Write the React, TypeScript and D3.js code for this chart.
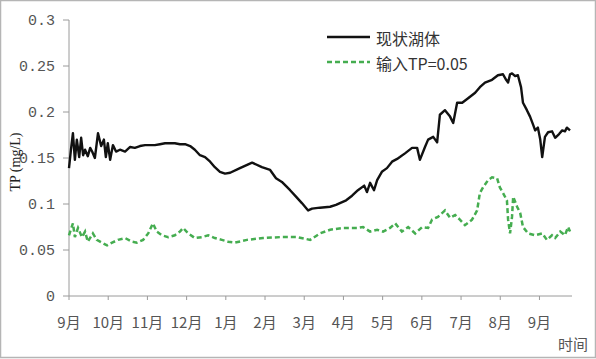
import React from 'react';
import * as d3 from 'd3';

// month labels, Sep -> Sep of next year
const monthLabels = ['9月', '10月', '11月', '12月', '1月', '2月', '3月', '4月', '5月', '6月', '7月', '8月', '9月'];
const yTicks = [0, 0.05, 0.1, 0.15, 0.2, 0.25, 0.3];

// 现状湖体: [month position, TP mg/L]
const lakeNow: [number, number][] = [
  [0.0, 0.139], [0.05, 0.159], [0.1, 0.177], [0.15, 0.148], [0.2, 0.17], [0.26, 0.151], [0.31, 0.172],
  [0.36, 0.153], [0.41, 0.159], [0.48, 0.152], [0.54, 0.161], [0.59, 0.157], [0.66, 0.15], [0.74, 0.177],
  [0.82, 0.163], [0.89, 0.17], [0.94, 0.151], [0.99, 0.166], [1.05, 0.148], [1.12, 0.164], [1.2, 0.157],
  [1.3, 0.159], [1.43, 0.157], [1.56, 0.162], [1.68, 0.161], [1.81, 0.163], [1.94, 0.164], [2.07, 0.164],
  [2.19, 0.164], [2.32, 0.165], [2.45, 0.166], [2.58, 0.166], [2.7, 0.166], [2.83, 0.165], [2.96, 0.165],
  [3.09, 0.163], [3.21, 0.159], [3.34, 0.153], [3.47, 0.151], [3.6, 0.146], [3.72, 0.14], [3.85, 0.135],
  [3.98, 0.133], [4.11, 0.134], [4.36, 0.139], [4.67, 0.145], [4.92, 0.14], [5.13, 0.137], [5.28, 0.128],
  [5.43, 0.124], [5.64, 0.115], [5.79, 0.108], [5.94, 0.101], [6.1, 0.093], [6.2, 0.095], [6.4, 0.096],
  [6.66, 0.097], [6.81, 0.099], [6.91, 0.101], [7.07, 0.104], [7.22, 0.109], [7.37, 0.115], [7.53, 0.12],
  [7.6, 0.113], [7.68, 0.123], [7.78, 0.115], [7.86, 0.126], [7.98, 0.135], [8.11, 0.139], [8.24, 0.146],
  [8.37, 0.149], [8.44, 0.151], [8.57, 0.155], [8.75, 0.161], [8.88, 0.161], [8.95, 0.148], [9.08, 0.162],
  [9.16, 0.17], [9.29, 0.173], [9.39, 0.167], [9.46, 0.197], [9.59, 0.202], [9.72, 0.195], [9.8, 0.188],
  [9.9, 0.21], [10.03, 0.21], [10.18, 0.215], [10.36, 0.221], [10.48, 0.227], [10.61, 0.232], [10.79, 0.235],
  [10.94, 0.24], [11.07, 0.241], [11.15, 0.235], [11.2, 0.232], [11.25, 0.241], [11.3, 0.242], [11.38, 0.239],
  [11.45, 0.24], [11.53, 0.227], [11.58, 0.21], [11.68, 0.202], [11.76, 0.195], [11.84, 0.186], [11.89, 0.18],
  [11.96, 0.183], [12.02, 0.17], [12.07, 0.151], [12.14, 0.173], [12.22, 0.178], [12.32, 0.179], [12.4, 0.172],
  [12.5, 0.176], [12.58, 0.18], [12.65, 0.179], [12.7, 0.183], [12.78, 0.18],
];

// 输入TP=0.05
const inputTP: [number, number][] = [
  [0.0, 0.066], [0.03, 0.07], [0.1, 0.079], [0.15, 0.064], [0.23, 0.074], [0.33, 0.064], [0.41, 0.07],
  [0.48, 0.059], [0.61, 0.068], [0.71, 0.061], [0.84, 0.058], [0.97, 0.055], [1.1, 0.058], [1.25, 0.061],
  [1.43, 0.063], [1.61, 0.059], [1.73, 0.058], [1.89, 0.061], [2.02, 0.068], [2.14, 0.079], [2.24, 0.07],
  [2.37, 0.066], [2.53, 0.064], [2.7, 0.066], [2.83, 0.07], [2.91, 0.074], [3.04, 0.068], [3.21, 0.063],
  [3.39, 0.064], [3.55, 0.066], [3.72, 0.063], [3.9, 0.061], [4.06, 0.059], [4.23, 0.058], [4.54, 0.061],
  [4.95, 0.063], [5.38, 0.064], [5.82, 0.064], [6.15, 0.061], [6.4, 0.068], [6.66, 0.072], [6.99, 0.074],
  [7.35, 0.074], [7.5, 0.075], [7.68, 0.07], [7.86, 0.072], [8.01, 0.07], [8.19, 0.074], [8.32, 0.079],
  [8.49, 0.07], [8.65, 0.075], [8.83, 0.068], [9.01, 0.075], [9.16, 0.074], [9.26, 0.083], [9.41, 0.086],
  [9.59, 0.093], [9.72, 0.085], [9.85, 0.088], [9.97, 0.083], [10.1, 0.077], [10.28, 0.083], [10.41, 0.093],
  [10.48, 0.112], [10.56, 0.118], [10.69, 0.126], [10.79, 0.129], [10.92, 0.128], [10.99, 0.118], [11.07, 0.112],
  [11.17, 0.104], [11.2, 0.083], [11.25, 0.068], [11.3, 0.086], [11.33, 0.108], [11.43, 0.097], [11.51, 0.09],
  [11.58, 0.075], [11.71, 0.068], [11.89, 0.066], [12.07, 0.068], [12.19, 0.061], [12.32, 0.066], [12.4, 0.063],
  [12.53, 0.07], [12.65, 0.066], [12.73, 0.075], [12.78, 0.07],
];

const W = 596;
const H = 359;
const left = 69;
const right = 572;
const top = 20;
const bottom = 296;

export default function App() {
  const x = d3.scaleLinear().domain([0, 12.83]).range([left, right]);
  const y = d3.scaleLinear().domain([0, 0.3]).range([bottom, top]);
  const line = d3.line<[number, number]>().x(d => x(d[0])).y(d => y(d[1]));
  const axisColor = '#9a9a9a';
  const labelColor = '#555';

  return (
    <svg width={W} height={H} style={{ position: 'absolute', left: 0, top: 0, background: '#fff' }}>
      <rect x={0.5} y={0.5} width={W - 1} height={H - 2} fill="#fff" stroke="#b5b5b5" strokeWidth={1.5} />

      {/* y axis */}
      <line x1={left} x2={left} y1={top} y2={bottom} stroke={axisColor} />
      {yTicks.map(t => (
        <g key={t}>
          <line x1={left - 6} x2={left} y1={y(t)} y2={y(t)} stroke={axisColor} />
          <text x={55} y={y(t) + 5} textAnchor="end" fontSize={15} fill={labelColor}
            fontFamily="'Liberation Mono', monospace">{String(t)}</text>
        </g>
      ))}

      {/* x axis */}
      <line x1={left} x2={right} y1={bottom} y2={bottom} stroke={axisColor} />
      {monthLabels.map((m, i) => (
        <g key={i}>
          <line x1={x(i)} x2={x(i)} y1={bottom} y2={bottom + 4} stroke={axisColor} />
          <text x={x(i)} y={328} textAnchor="middle" fontSize={15} fill={labelColor}
            fontFamily="'Noto Sans CJK SC', sans-serif">{m}</text>
        </g>
      ))}
      <text x={573} y={350} textAnchor="middle" fontSize={15} fill={labelColor}
        fontFamily="'Noto Sans CJK SC', sans-serif">时间</text>

      <text transform="translate(20,162) rotate(-90)" textAnchor="middle" fontSize={14} fill="#222"
        fontFamily="'Liberation Serif', serif">TP (mg/L)</text>

      {/* series */}
      <path d={line(inputTP) || ''} fill="none" stroke="#45ad50" strokeWidth={2.5} strokeDasharray="5,3" />
      <path d={line(lakeNow) || ''} fill="none" stroke="#111" strokeWidth={2.4} strokeLinejoin="round" />

      {/* legend */}
      <line x1={327} x2={370} y1={37} y2={37} stroke="#111" strokeWidth={2.4} />
      <text x={376} y={45} fontSize={16} fill="#333" fontFamily="'Noto Sans CJK SC', sans-serif">现状湖体</text>
      <line x1={327} x2={370} y1={62} y2={62} stroke="#45ad50" strokeWidth={2.5} strokeDasharray="5,3" />
      <text x={376} y={70} fontSize={16} fill="#333" fontFamily="'Noto Sans CJK SC', sans-serif">输入TP=0.05</text>
    </svg>
  );
}
